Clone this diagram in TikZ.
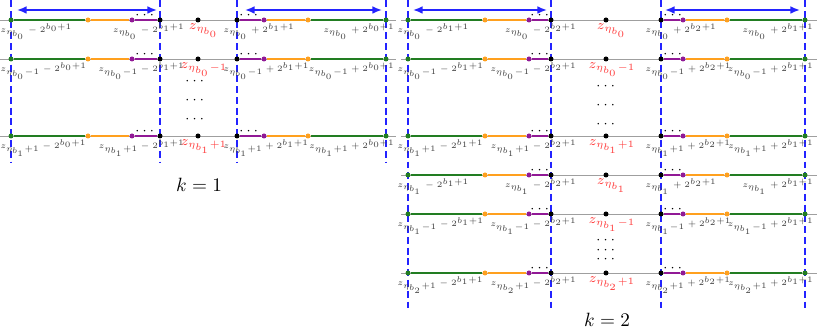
\documentclass[tikz,border=0pt]{standalone}
\usepackage{amsmath}
\usepackage{amssymb}
\usepackage{tikz}
\usetikzlibrary{arrows.meta}

\definecolor{segGreen}{RGB}{34,125,34}
\definecolor{segOrange}{RGB}{255,160,30}
\definecolor{segPurple}{RGB}{145,25,150}
\definecolor{lblRed}{RGB}{255,60,60}
\definecolor{guideBlue}{RGB}{35,35,255}

\tikzset{
  numline/.style={gray!75,line width=0.5pt},
  knot/.style={circle,fill=black,minimum size=2.6pt,inner sep=0pt},
  greenseg/.style={segGreen,line width=1.1pt},
  orangeseg/.style={segOrange,line width=1.1pt},
  purpleseg/.style={segPurple,line width=1.1pt},
  guide/.style={guideBlue,line width=0.8pt,dash pattern=on 3.6pt off 2pt},
  widtharrow/.style={guideBlue,line width=0.8pt,{Latex[length=5pt,width=4pt]}-{Latex[length=5pt,width=4pt]}},
  lbl/.style={black!75,inner sep=0pt,font=\tiny,scale=0.86},
  redlbl/.style={lblRed,inner sep=0pt,font=\scriptsize},
  ell/.style={inner sep=0pt,font=\scriptsize}
}

\begin{document}
\begin{tikzpicture}[x=0.52pt,y=0.52pt]
\useasboundingbox (0,0) rectangle (817,328);

% k = 1
\foreach \gx in {11,160,237,386}{ \draw[guide] (\gx,328) -- (\gx,165); }
\draw[widtharrow] (17,318) -- (157,318);
\draw[widtharrow] (245,318) -- (382,318);
\foreach \yy/\ix in {308/\eta_{b_0},269/\eta_{b_0}-1,192/\eta_{b_1}+1}{
	\coordinate (k1s\yy) at (0,\yy);
	\coordinate (k1e\yy) at (396,\yy);
	\draw[numline] (k1s\yy) -- (k1e\yy);
	\node[knot,fill=segGreen] (k1lg\yy) at (11,\yy) {};
	\node[knot,fill=segOrange] (k1lo\yy) at (88,\yy) {};
	\node[knot,fill=segPurple] (k1lp\yy) at (132,\yy) {};
	\node[knot] (k1lb\yy) at (160,\yy) {};
	\node[knot] (k1c\yy) at (198,\yy) {};
	\node[knot] (k1rb\yy) at (237,\yy) {};
	\node[knot,fill=segPurple] (k1rp\yy) at (264,\yy) {};
	\node[knot,fill=segOrange] (k1ro\yy) at (308,\yy) {};
	\node[knot,fill=segGreen] (k1rg\yy) at (386,\yy) {};
	\draw[greenseg] (k1lg\yy) -- (k1lo\yy);
	\draw[orangeseg] (k1lo\yy) -- (k1lp\yy);
	\draw[purpleseg] (k1lp\yy) -- (k1lb\yy);
	\draw[purpleseg] (k1rb\yy) -- (k1rp\yy);
	\draw[orangeseg] (k1rp\yy) -- (k1ro\yy);
	\draw[greenseg] (k1ro\yy) -- (k1rg\yy);
	\node[ell] (k1dl\yy) at (146,\yy+5) {$\cdots$};
	\node[ell] (k1dr\yy) at (250,\yy+5) {$\cdots$};
	\node[lbl,anchor=north west] (k1tlg\yy) at (0,\yy-3) {$z_{\ix} - 2^{b_0+1}$};
	\node[lbl,anchor=north east] (k1tlb\yy) at (185,\yy-3) {$z_{\ix} - 2^{b_1+1}$};
	\node[redlbl,anchor=north] (k1tc\yy) at (204,\yy-3) {$z_{\ix}$};
	\node[lbl,anchor=north west] (k1trb\yy) at (223,\yy-3) {$z_{\ix} + 2^{b_1+1}$};
	\node[lbl,anchor=north east] (k1trg\yy) at (395,\yy-3) {$z_{\ix} + 2^{b_0+1}$};
}
\foreach \yy in {247,228,209}{ \node[ell] (k1v\yy) at (196,\yy) {$\cdots$}; }
\node (k1) at (199,143) {$k=1$};

% k = 2
\foreach \gx in {408,551,661,805}{ \draw[guide] (\gx,328) -- (\gx,20); }
\draw[widtharrow] (413,318) -- (547,318);
\draw[widtharrow] (665,318) -- (800,318);
\foreach \yy/\ix in {308/\eta_{b_0},269/\eta_{b_0}-1,192/\eta_{b_1}+1,153/\eta_{b_1},114/\eta_{b_1}-1,55/\eta_{b_2}+1}{
	\coordinate (k2s\yy) at (401,\yy);
	\coordinate (k2e\yy) at (817,\yy);
	\draw[numline] (k2s\yy) -- (k2e\yy);
	\node[knot,fill=segGreen] (k2lg\yy) at (408,\yy) {};
	\node[knot,fill=segOrange] (k2lo\yy) at (485,\yy) {};
	\node[knot,fill=segPurple] (k2lp\yy) at (529,\yy) {};
	\node[knot] (k2lb\yy) at (551,\yy) {};
	\node[knot] (k2c\yy) at (606,\yy) {};
	\node[knot] (k2rb\yy) at (661,\yy) {};
	\node[knot,fill=segPurple] (k2rp\yy) at (683,\yy) {};
	\node[knot,fill=segOrange] (k2ro\yy) at (727,\yy) {};
	\node[knot,fill=segGreen] (k2rg\yy) at (805,\yy) {};
	\draw[greenseg] (k2lg\yy) -- (k2lo\yy);
	\draw[orangeseg] (k2lo\yy) -- (k2lp\yy);
	\draw[purpleseg] (k2lp\yy) -- (k2lb\yy);
	\draw[purpleseg] (k2rb\yy) -- (k2rp\yy);
	\draw[orangeseg] (k2rp\yy) -- (k2ro\yy);
	\draw[greenseg] (k2ro\yy) -- (k2rg\yy);
	\node[ell] (k2dl\yy) at (541,\yy+5) {$\cdots$};
	\node[ell] (k2dr\yy) at (674,\yy+5) {$\cdots$};
	\node[lbl,anchor=north west] (k2tlg\yy) at (397,\yy-3) {$z_{\ix} - 2^{b_1+1}$};
	\node[lbl,anchor=north east] (k2tlb\yy) at (577,\yy-3) {$z_{\ix} - 2^{b_2+1}$};
	\node[redlbl,anchor=north] (k2tc\yy) at (612,\yy-3) {$z_{\ix}$};
	\node[lbl,anchor=north west] (k2trb\yy) at (645,\yy-3) {$z_{\ix} + 2^{b_2+1}$};
	\node[lbl,anchor=north east] (k2trg\yy) at (814,\yy-3) {$z_{\ix} + 2^{b_1+1}$};
}
\foreach \yy in {242,223,204,88,78,69}{ \node[ell] (k2v\yy) at (607,\yy) {$\cdots$}; }
\node (k2) at (607,8) {$k=2$};
\end{tikzpicture}
\end{document}
